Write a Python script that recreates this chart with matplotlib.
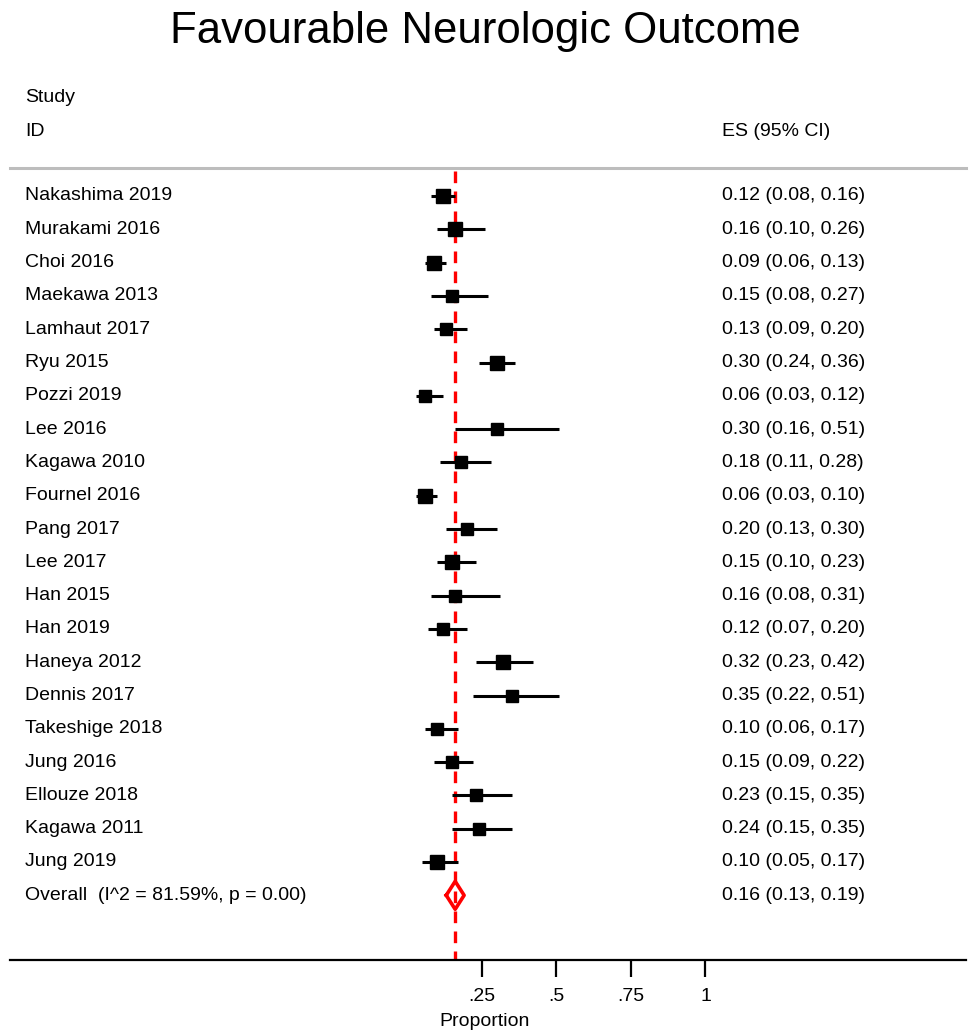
import matplotlib
matplotlib.use("Agg")
import matplotlib.pyplot as plt
import numpy as np

plt.rcParams["font.family"] = ["Liberation Sans", "DejaVu Sans"]

studies = [
    "Nakashima 2019", "Murakami 2016", "Choi 2016", "Maekawa 2013", "Lamhaut 2017",
    "Ryu 2015", "Pozzi 2019", "Lee 2016", "Kagawa 2010", "Fournel 2016",
    "Pang 2017", "Lee 2017", "Han 2015", "Han 2019", "Haneya 2012",
    "Dennis 2017", "Takeshige 2018", "Jung 2016", "Ellouze 2018", "Kagawa 2011",
    "Jung 2019",
]
es = [0.12, 0.16, 0.09, 0.15, 0.13, 0.30, 0.06, 0.30, 0.18, 0.06,
      0.20, 0.15, 0.16, 0.12, 0.32, 0.35, 0.10, 0.15, 0.23, 0.24, 0.10]
lo = [0.08, 0.10, 0.06, 0.08, 0.09, 0.24, 0.03, 0.16, 0.11, 0.03,
      0.13, 0.10, 0.08, 0.07, 0.23, 0.22, 0.06, 0.09, 0.15, 0.15, 0.05]
hi = [0.16, 0.26, 0.13, 0.27, 0.20, 0.36, 0.12, 0.51, 0.28, 0.10,
      0.30, 0.23, 0.31, 0.20, 0.42, 0.51, 0.17, 0.22, 0.35, 0.35, 0.17]
# approximate study weights (%)
weights = [5.4, 4.8, 5.0, 4.2, 4.5, 4.9, 4.0, 4.2, 4.4, 5.0,
           4.5, 4.7, 4.3, 4.6, 4.9, 4.4, 4.6, 4.6, 4.5, 4.5, 4.9]

overall = (0.16, 0.13, 0.19)
overall_label = "Overall  (I^2 = 81.59%, p = 0.00)"
xticks = [0.25, 0.5, 0.75, 1.0]
xticklabels = [".25", ".5", ".75", "1"]

W, H, DPI = 970, 1033, 100
fig = plt.figure(figsize=(W / DPI, H / DPI), dpi=DPI)

# pixel helpers for layout
x0_px, unit_px = 407.5, 298.0
row0_px, row_px = 196.0, 33.3
axis_px = 960.0


def xdat(px):
    return (px - x0_px) / unit_px


def ydat(px):
    return (px - row0_px) / row_px


ax = fig.add_axes([0, (H - axis_px) / H, 1, axis_px / H])
ax.set_xlim(xdat(0), xdat(W))
ax.set_ylim(ydat(axis_px), ydat(0))

fs = 14
tx_left = xdat(25)
tx_es = xdat(722)

n = len(studies)
for i in range(n):
    ax.plot([lo[i], hi[i]], [i, i], color="black", lw=2.2, solid_capstyle="butt", zorder=3)
    side = 6.0 * np.sqrt(weights[i]) * 0.72
    ax.plot(es[i], i, marker="s", color="black", markersize=side, zorder=4, linestyle="none")
    ax.text(tx_left, i, studies[i], fontsize=fs, va="center", ha="left")
    ax.text(tx_es, i, f"{es[i]:.2f} ({lo[i]:.2f}, {hi[i]:.2f})", fontsize=fs, va="center", ha="left")

# overall diamond
yo = n
oe, ol, oh = overall
ax.plot([ol, oe, oh, oe, ol], [yo, yo - 0.42, yo, yo + 0.42, yo], color="red", lw=2.6, zorder=5)
ax.text(tx_left, yo, overall_label, fontsize=fs, va="center", ha="left")
ax.text(tx_es, yo, f"{oe:.2f} ({ol:.2f}, {oh:.2f})", fontsize=fs, va="center", ha="left")

# pooled estimate reference line
ax.plot([oe, oe], [ydat(171), ydat(axis_px)], color="red", lw=2.4, linestyle=(0, (3.5, 2.5)), zorder=2)

# header
ax.text(tx_left, ydat(98), "Study", fontsize=fs, va="center", ha="left")
ax.text(tx_left, ydat(131), "ID", fontsize=fs, va="center", ha="left")
ax.text(tx_es, ydat(131), "ES (95% CI)", fontsize=fs, va="center", ha="left")
ax.plot([xdat(10), xdat(966)], [ydat(168), ydat(168)], color="#bdbdbd", lw=2.2)

fig.text(0.5, 1 - 31 / H, "Favourable Neurologic Outcome", fontsize=31.5, ha="center", va="center")

# axis styling
for s in ("top", "left", "right"):
    ax.spines[s].set_visible(False)
ax.spines["bottom"].set_bounds(xdat(10), xdat(966))
ax.spines["bottom"].set_linewidth(1.6)
ax.set_yticks([])
ax.set_xticks(xticks)
ax.set_xticklabels(xticklabels, fontsize=fs)
ax.tick_params(axis="x", length=12, width=1.6, pad=8)
ax.set_xlabel("Proportion", fontsize=fs, labelpad=6)

fig.savefig("out.png", dpi=DPI, facecolor="white")
